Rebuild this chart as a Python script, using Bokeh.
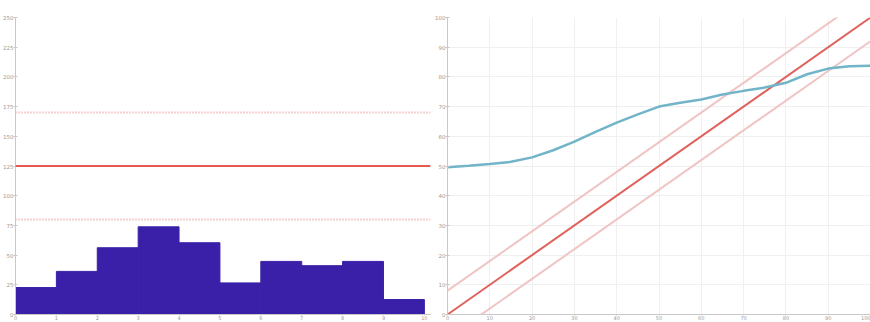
from bokeh.plotting import figure
from bokeh.layouts import row
from bokeh.models import Range1d, FixedTicker, Span
from bokeh.embed import file_html
from bokeh.resources import INLINE

# --- left panel: binned counts with target and limits ---
bin_edges = [0, 1, 2, 3, 4, 5, 6, 7, 8, 9, 10]
bin_counts = [22.7, 36.3, 56.2, 73.8, 60.4, 26.6, 44.7, 41.1, 44.7, 12.6]
target_level = 125
upper_limit = 170
lower_limit = 80
left_y_ticks = [0, 25, 50, 75, 100, 125, 150, 175, 200, 225, 250]

# --- right panel: observed curve against identity with tolerance band ---
curve_x = [0, 5, 10, 15, 20, 25, 30, 35, 40, 45, 50, 55, 60, 65, 70, 75, 80, 85, 90, 95, 100]
curve_y = [49.6, 50.1, 50.7, 51.4, 52.9, 55.3, 58.2, 61.5, 64.6, 67.4, 70.0, 71.3,
           72.4, 74.1, 75.3, 76.4, 78.0, 80.9, 82.8, 83.6, 83.8]
ref_x = [0, 100]
ref_y = [0, 100]
band_offset = 8
right_ticks = [0, 10, 20, 30, 40, 50, 60, 70, 80, 90, 100]

AXIS_COLOR = "#c8c8c8"
LABEL_COLOR = "#9a9a9a"


def style(p):
    p.outline_line_color = None
    p.background_fill_color = "white"
    p.border_fill_color = "white"
    for ax in (p.xaxis[0], p.yaxis[0]):
        ax.axis_line_color = AXIS_COLOR
        ax.major_tick_line_color = AXIS_COLOR
        ax.minor_tick_line_color = None
        ax.major_label_text_color = LABEL_COLOR
        ax.major_label_text_font = "DejaVu Sans"
        ax.major_label_text_font_size = "5.5px"
        ax.major_tick_in = 2
        ax.major_tick_out = 2
        ax.major_label_standoff = 0
    p.xaxis[0].major_tick_in = 0
    p.xaxis[0].major_tick_out = 1
    p.xaxis[0].major_label_text_font_size = "5px"


left = figure(width=432, height=322, output_backend="svg", toolbar_location=None,
              x_range=Range1d(0, 10.15), y_range=Range1d(0, 250),
              min_border_left=13, min_border_right=2, min_border_top=17, min_border_bottom=6)
left.quad(left=bin_edges[:-1], right=bin_edges[1:], bottom=0, top=bin_counts,
          fill_color="#3a20a8", line_color="#3a20a8")
left.add_layout(Span(location=target_level, dimension="width", line_color="#e8574e", line_width=2))
for lvl in (upper_limit, lower_limit):
    left.add_layout(Span(location=lvl, dimension="width", line_color="#eba0a0",
                         line_width=2, line_dash="1 2"))
left.xgrid.visible = False
left.ygrid.visible = False
left.xaxis.ticker = FixedTicker(ticks=bin_edges)
left.yaxis.ticker = FixedTicker(ticks=left_y_ticks)
style(left)

right = figure(width=438, height=322, output_backend="svg", toolbar_location=None,
               x_range=Range1d(0, 100), y_range=Range1d(0, 100),
               min_border_left=12, min_border_right=0, min_border_top=12, min_border_bottom=6)
right.line(ref_x, [y + band_offset for y in ref_y], line_color="#efc4c4", line_width=2)
right.line(ref_x, [y - band_offset for y in ref_y], line_color="#efc4c4", line_width=2)
right.line(ref_x, ref_y, line_color="#e0605c", line_width=2)
right.line(curve_x, curve_y, line_color="#72b4c8", line_width=2.5)
right.xaxis.ticker = FixedTicker(ticks=right_ticks)
right.yaxis.ticker = FixedTicker(ticks=right_ticks)
right.xgrid.grid_line_color = "#f0f0f0"
right.ygrid.grid_line_color = "#f0f0f0"
style(right)

layout = row(left, right, spacing=0)
open("out.html", "w").write(file_html(layout, INLINE))
